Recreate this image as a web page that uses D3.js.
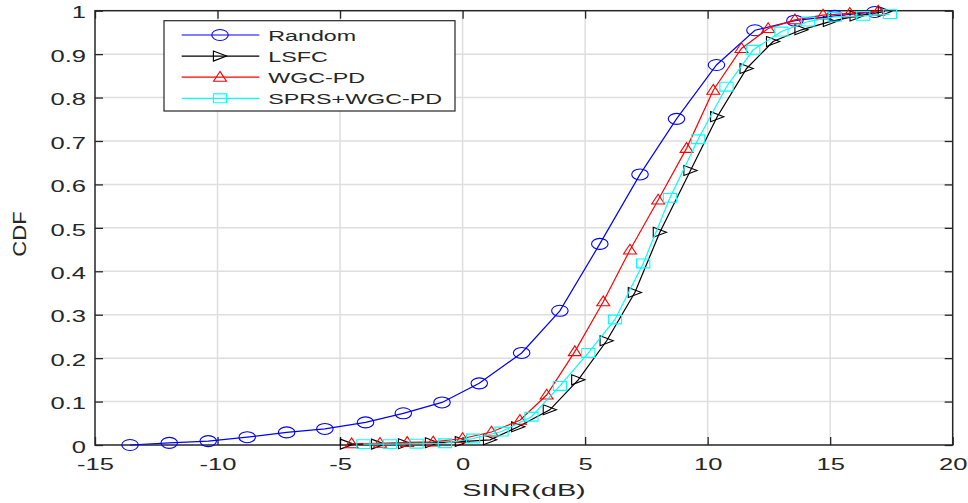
<!DOCTYPE html>
<html>
<head>
<meta charset="utf-8">
<script src="https://cdn.jsdelivr.net/npm/d3@7"></script>
<style>
  html, body { margin: 0; padding: 0; background: #fff; }
  svg { display: block; }
  text { font-family: "Liberation Sans", Arial, Helvetica, sans-serif; fill: #262626; }
</style>
</head>
<body>
<svg id="chart" width="968" height="503"></svg>
<script>
// ---- data ----
const seriesNames = ["Random", "LSFC", "WGC-PD", "SPRS+WGC-PD"];

const randomX = [-13.57,-11.97,-10.38,-8.79,-7.18,-5.62,-3.96,-2.42,-0.84,0.68,2.41,3.97,5.60,7.24,8.73,10.36,11.93,13.56,15.19,16.82];
const randomY = [0,0.005,0.009,0.018,0.029,0.037,0.052,0.073,0.098,0.142,0.212,0.309,0.463,0.623,0.751,0.875,0.955,0.977,0.988,0.997];

const lsfcX = [-4.72,-3.45,-2.35,-1.25,-0.03,1.12,2.27,3.56,4.72,5.88,7.03,8.05,9.30,10.39,11.59,12.67,13.83,14.99,16.08,17.23];
const lsfcY = [0.002,0.002,0.003,0.005,0.008,0.012,0.042,0.081,0.150,0.240,0.351,0.490,0.632,0.756,0.867,0.929,0.956,0.975,0.988,0.998];

const wgcX = [-4.53,-3.37,-2.26,-1.20,0.00,1.18,2.34,3.43,4.58,5.74,6.83,7.98,9.14,10.23,11.38,12.47,13.56,14.71,15.80,16.96];
const wgcY = [0.003,0.004,0.006,0.007,0.015,0.030,0.057,0.115,0.215,0.330,0.449,0.564,0.683,0.817,0.913,0.959,0.979,0.990,0.994,0.999];

const sprsX = [-4.05,-2.97,-1.88,-0.72,0.43,1.59,2.81,3.97,5.13,6.22,7.37,8.46,9.61,10.77,11.86,13.01,14.10,15.19,16.35,17.44];
const sprsY = [0.002,0.002,0.003,0.004,0.015,0.031,0.065,0.136,0.212,0.289,0.418,0.569,0.704,0.825,0.910,0.952,0.975,0.986,0.988,0.992];

const xTicks = [-15,-10,-5,0,5,10,15,20];
const yTicks = [0,0.1,0.2,0.3,0.4,0.5,0.6,0.7,0.8,0.9,1];
const xLabel = "SINR(dB)";
const yLabel = "CDF";

// ---- layout ----
const L = 95, R = 952.7, T = 10.7, B = 445;
const SX = 1.5; // horizontal stretch of the reference image

const svg = d3.select("#chart");
const x = d3.scaleLinear().domain([-15, 20]).range([L, R]);
const y = d3.scaleLinear().domain([0, 1]).range([B, T]);

// grid
const grid = svg.append("g");
grid.selectAll("line.gx").data(xTicks.slice(1, -1)).enter().append("line")
  .attr("x1", d => x(d)).attr("x2", d => x(d)).attr("y1", T).attr("y2", B)
  .attr("stroke", "#dedede").attr("stroke-width", 1.5);
grid.selectAll("line.gy").data(yTicks.slice(1, -1)).enter().append("line")
  .attr("x1", L).attr("x2", R).attr("y1", d => y(d)).attr("y2", d => y(d))
  .attr("stroke", "#dedede").attr("stroke-width", 1.5);

// axes
const fmtX = d => String(d);               // plain hyphen-minus like the reference
const fmtY = d => d === 0 ? "0" : d === 1 ? "1" : d.toFixed(1);
const axB = svg.append("g").attr("transform", `translate(0,${B})`)
  .call(d3.axisBottom(x).tickValues(xTicks).tickSizeInner(-8).tickSizeOuter(0).tickFormat(fmtX));
const axT = svg.append("g").attr("transform", `translate(0,${T})`)
  .call(d3.axisTop(x).tickValues(xTicks).tickSizeInner(-8).tickSizeOuter(0).tickFormat(""));
const axL = svg.append("g").attr("transform", `translate(${L},0)`)
  .call(d3.axisLeft(y).tickValues(yTicks).tickSizeInner(-8).tickSizeOuter(0).tickFormat(fmtY));
const axR = svg.append("g").attr("transform", `translate(${R},0)`)
  .call(d3.axisRight(y).tickValues(yTicks).tickSizeInner(-8).tickSizeOuter(0).tickFormat(""));

[axB, axT, axL, axR].forEach(a => {
  a.select(".domain").remove();
  a.selectAll(".tick line").attr("stroke", "#262626").attr("stroke-width", 1.3);
});

const TSX = 1.55;
axB.selectAll(".tick text")
  .attr("font-size", 16.5).attr("fill", "#262626")
  .attr("y", 25).attr("dy", null)
  .attr("x", 0)
  .attr("transform", `scale(${TSX},1)`);
axL.selectAll(".tick text")
  .attr("font-size", 16.5).attr("fill", "#262626")
  .attr("x", -9 / TSX).attr("dy", "0.44em")
  .attr("transform", `scale(${TSX},1)`);

// box
svg.append("rect").attr("x", L).attr("y", T).attr("width", R - L).attr("height", B - T)
  .attr("fill", "none").attr("stroke", "#262626").attr("stroke-width", 1.5);

// marker shapes (unstretched, then scaled horizontally)
const markerPaths = {
  circle: "M5.5,0A5.5,5.5 0 1,1 -5.5,0A5.5,5.5 0 1,1 5.5,0Z",
  triRight: "M4.4,0L-4.4,-5L-4.4,5Z",
  triUp: "M0,-5.8L4.3,4L-4.3,4Z",
  square: "M-4.4,-4.4L4.4,-4.4L4.4,4.4L-4.4,4.4Z"
};

const series = [
  { name: seriesNames[0], xs: randomX, ys: randomY, color: "#0000ff", marker: "circle" },
  { name: seriesNames[1], xs: lsfcX, ys: lsfcY, color: "#000000", marker: "triRight" },
  { name: seriesNames[2], xs: wgcX, ys: wgcY, color: "#ff0000", marker: "triUp" },
  { name: seriesNames[3], xs: sprsX, ys: sprsY, color: "#00ffff", marker: "square" }
];

const line = d3.line().x(d => x(d[0])).y(d => y(d[1]));
series.forEach(s => {
  const pts = s.xs.map((v, i) => [v, s.ys[i]]);
  const g = svg.append("g");
  g.append("path").attr("d", line(pts)).attr("fill", "none")
    .attr("stroke", s.color).attr("stroke-width", 1.2);
  g.selectAll("path.m").data(pts).enter().append("path")
    .attr("class", "m")
    .attr("d", markerPaths[s.marker])
    .attr("transform", d => `translate(${x(d[0])},${y(d[1])}) scale(${SX},1)`)
    .attr("fill", "none").attr("stroke", s.color).attr("stroke-width", 1.1)
    .attr("vector-effect", "non-scaling-stroke");
});

// legend
const lg = svg.append("g");
lg.append("rect").attr("x", 164).attr("y", 20.7).attr("width", 291).attr("height", 90.3)
  .attr("fill", "#fff").attr("stroke", "#262626").attr("stroke-width", 1.2);
const rowY = d3.scaleLinear().domain([0, 3]).range([35, 98.3]);
series.forEach((s, i) => {
  const yy = rowY(i);
  lg.append("line").attr("x1", 181.7).attr("x2", 259.3).attr("y1", yy).attr("y2", yy)
    .attr("stroke", s.color).attr("stroke-width", 1.2);
  lg.append("path").attr("d", markerPaths[s.marker])
    .attr("transform", `translate(220,${yy}) scale(${SX},1)`)
    .attr("fill", "none").attr("stroke", s.color).attr("stroke-width", 1.1)
    .attr("vector-effect", "non-scaling-stroke");
  lg.append("text").attr("transform", `translate(268.3,${yy + 5.6}) scale(1.5,1)`)
    .attr("font-size", 15.5).text(s.name);
});

// axis labels
svg.append("text").attr("transform", `translate(524,496) scale(1.75,1)`)
  .attr("text-anchor", "middle").attr("font-size", 16.5).text(xLabel);
svg.append("text").attr("transform", `translate(25.5,234) rotate(-90) scale(1.3,1.1)`)
  .attr("text-anchor", "middle").attr("font-size", 17).text(yLabel);
</script>
</body>
</html>
